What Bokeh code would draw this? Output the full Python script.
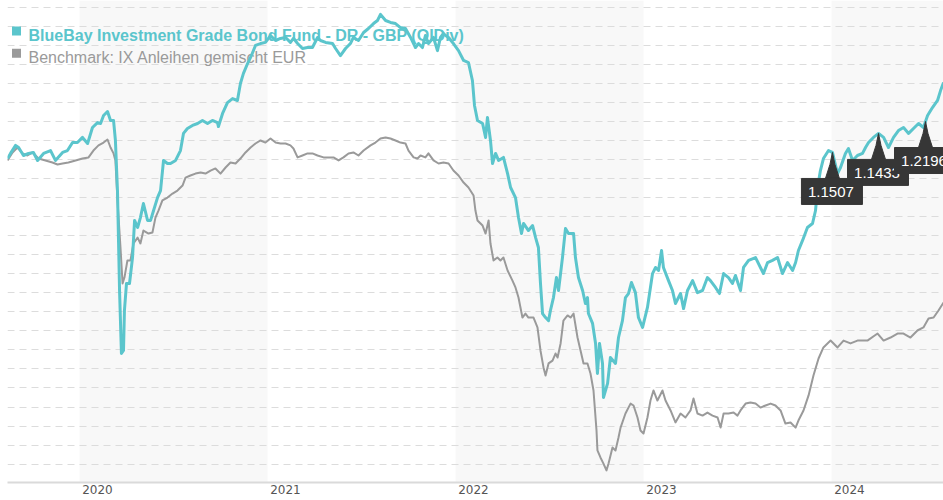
import numpy as np
from bokeh.plotting import figure
from bokeh.models import FixedTicker, Grid
from bokeh.core.properties import value
from bokeh.embed import file_html
from bokeh.resources import INLINE

# ---------------- data (decimal years, index values) ----------------
fund_name = "BlueBay Investment Grade Bond Fund - DR - GBP (QIDiv)"
bench_name = "Benchmark: IX Anleihen gemischt EUR"

fund_t = [
    2019.617, 2019.633, 2019.660, 2019.676, 2019.702, 2019.729, 2019.755, 2019.777, 2019.809, 2019.846, 2019.872, 2019.910, 2019.936, 2019.963, 2019.989,
    2020.016, 2020.043, 2020.069, 2020.096, 2020.112, 2020.128, 2020.149, 2020.165, 2020.181, 2020.191,
    2020.202, 2020.213, 2020.223, 2020.234, 2020.239, 2020.250, 2020.266, 2020.282, 2020.293, 2020.309,
    2020.324, 2020.340, 2020.362, 2020.378, 2020.394, 2020.415, 2020.431, 2020.447, 2020.468, 2020.484,
    2020.511, 2020.537, 2020.553, 2020.574, 2020.601, 2020.628, 2020.654, 2020.681, 2020.707, 2020.734,
    2020.739, 2020.761, 2020.787, 2020.814, 2020.840, 2020.856, 2020.872, 2020.894, 2020.910, 2020.936,
    2020.963, 2020.989,
    2021.016, 2021.043, 2021.069, 2021.096, 2021.122, 2021.138, 2021.160, 2021.186, 2021.213, 2021.239,
    2021.266, 2021.282, 2021.309, 2021.346, 2021.362, 2021.388, 2021.415, 2021.441, 2021.457, 2021.484,
    2021.511, 2021.537, 2021.564, 2021.585, 2021.601, 2021.628, 2021.654, 2021.681, 2021.707, 2021.734,
    2021.761, 2021.787, 2021.803, 2021.824, 2021.840, 2021.856, 2021.883, 2021.904, 2021.920, 2021.936,
    2021.947, 2021.963, 2021.989,
    2022.016, 2022.043, 2022.069, 2022.090, 2022.101, 2022.117, 2022.144, 2022.160, 2022.170, 2022.186,
    2022.197, 2022.213, 2022.229, 2022.255, 2022.277, 2022.293, 2022.319, 2022.335, 2022.351, 2022.362,
    2022.388, 2022.410, 2022.426, 2022.441, 2022.452, 2022.463, 2022.479, 2022.495, 2022.505, 2022.521,
    2022.537, 2022.548, 2022.569, 2022.585, 2022.601, 2022.628, 2022.638, 2022.654, 2022.676, 2022.691,
    2022.702, 2022.707, 2022.729, 2022.745, 2022.755, 2022.766, 2022.782, 2022.787, 2022.809, 2022.824,
    2022.851, 2022.867, 2022.888, 2022.904, 2022.920, 2022.936, 2022.957, 2022.973, 2022.995,
    2023.021, 2023.048, 2023.064, 2023.080, 2023.096, 2023.106, 2023.133, 2023.154, 2023.170, 2023.197,
    2023.213, 2023.234, 2023.261, 2023.287, 2023.314, 2023.340, 2023.356, 2023.383, 2023.404, 2023.426,
    2023.452, 2023.473, 2023.489, 2023.516, 2023.532, 2023.559, 2023.596, 2023.622, 2023.638, 2023.660,
    2023.686, 2023.713, 2023.739, 2023.766, 2023.793, 2023.809, 2023.824, 2023.846, 2023.872, 2023.899,
    2023.915, 2023.926, 2023.941, 2023.957, 2023.984,
    2024.005, 2024.032, 2024.048, 2024.074, 2024.090, 2024.112, 2024.138, 2024.165, 2024.181, 2024.197,
    2024.223, 2024.250, 2024.277, 2024.303, 2024.330, 2024.356, 2024.383, 2024.410, 2024.436, 2024.463,
    2024.489, 2024.511, 2024.537, 2024.564, 2024.580, 2024.596,
]
fund_v = [
    100.05, 100.32, 100.74, 100.63, 100.21, 100.32, 100.37, 99.95, 100.32, 100.47, 99.95, 100.37, 100.47, 100.89, 100.89,
    101.16, 100.84, 101.68, 101.94, 101.89, 102.31, 102.52, 102.05, 102.05, 101.00,
    98.37, 93.12, 89.81, 89.97, 92.07, 93.49, 93.49, 94.85, 96.80, 96.43,
    96.95, 97.69, 96.80, 96.80, 97.32, 98.00, 98.37, 99.95, 99.79, 99.79,
    99.95, 100.47, 101.37, 101.63, 101.79, 101.89, 102.05, 101.89, 102.05, 101.94,
    101.73, 102.42, 102.99, 103.20, 103.10, 103.99, 104.52, 105.04, 105.36, 105.99,
    106.09, 106.15,
    106.51, 106.25, 106.36, 106.41, 106.15, 106.36, 106.09, 105.83, 105.88, 105.88,
    106.41, 106.25, 106.15, 106.09, 105.83, 105.46, 105.83, 106.09, 106.41, 106.25,
    106.67, 106.88, 107.14, 107.30, 107.62, 107.30, 107.20, 107.14, 106.93, 106.88,
    106.41, 105.88, 106.09, 105.88, 106.51, 106.09, 106.41, 105.72, 106.41, 106.62,
    106.51, 106.41, 106.09,
    105.72, 105.20, 105.09, 104.15, 102.84, 102.05, 101.89, 101.16, 102.21, 101.00,
    99.79, 100.32, 99.95, 100.11, 99.26, 98.53, 98.00, 96.95, 96.11, 96.64,
    96.27, 96.53, 95.90, 95.38, 93.49, 91.91, 91.70, 91.54, 92.07, 92.75,
    93.80, 93.12, 94.85, 96.38, 96.11, 96.11, 94.85, 93.80, 93.12, 92.44,
    92.75, 91.91, 91.39, 90.34, 88.76, 90.34, 89.29, 87.50, 88.24, 89.60,
    89.29, 90.65, 91.54, 92.75, 92.96, 93.54, 93.01, 91.70, 91.18,
    92.23, 94.01, 94.33, 94.17, 95.22, 94.33, 93.64, 93.12, 92.44, 92.96,
    92.17, 93.12, 93.64, 93.01, 93.12, 93.80, 93.64, 93.28, 92.96, 94.01,
    93.80, 93.49, 93.91, 93.12, 94.33, 94.70, 94.85, 94.33, 94.01, 94.59,
    94.70, 94.85, 94.01, 94.59, 94.17, 94.59, 95.22, 95.75, 96.43, 96.64,
    97.32, 98.53, 99.42, 100.05, 100.47,
    100.37, 99.26, 99.58, 100.32, 100.58, 99.95, 100.21, 100.32, 100.63, 100.89,
    101.16, 101.37, 101.16, 100.63, 101.16, 101.52, 101.68, 101.37, 101.63, 101.89,
    101.68, 102.31, 102.73, 103.10, 103.62, 104.04,
]

bench_t = [
    2019.617, 2019.644, 2019.670, 2019.697, 2019.723, 2019.750, 2019.782, 2019.819, 2019.856, 2019.883, 2019.910, 2019.941, 2019.979,
    2020.016, 2020.048, 2020.074, 2020.101, 2020.128, 2020.149, 2020.165, 2020.181, 2020.191, 2020.202,
    2020.218, 2020.229, 2020.239, 2020.255, 2020.271, 2020.287, 2020.309, 2020.324, 2020.340, 2020.367,
    2020.388, 2020.404, 2020.420, 2020.441, 2020.468, 2020.495, 2020.521, 2020.548, 2020.564, 2020.590,
    2020.617, 2020.644, 2020.670, 2020.697, 2020.723, 2020.750, 2020.777, 2020.803, 2020.830, 2020.856,
    2020.883, 2020.910, 2020.936, 2020.963, 2020.989,
    2021.016, 2021.043, 2021.069, 2021.096, 2021.122, 2021.138, 2021.160, 2021.186, 2021.213, 2021.239,
    2021.266, 2021.298, 2021.324, 2021.351, 2021.378, 2021.404, 2021.431, 2021.457, 2021.484, 2021.511,
    2021.548, 2021.574, 2021.601, 2021.628, 2021.654, 2021.681, 2021.707, 2021.734, 2021.750, 2021.777,
    2021.798, 2021.814, 2021.840, 2021.856, 2021.883, 2021.910, 2021.936, 2021.963, 2021.989,
    2022.016, 2022.043, 2022.069, 2022.096, 2022.106, 2022.117, 2022.144, 2022.160, 2022.176, 2022.186,
    2022.202, 2022.223, 2022.239, 2022.255, 2022.277, 2022.303, 2022.319, 2022.335, 2022.356, 2022.372,
    2022.388, 2022.415, 2022.436, 2022.452, 2022.468, 2022.479, 2022.495, 2022.516, 2022.532, 2022.543,
    2022.559, 2022.574, 2022.596, 2022.612, 2022.628, 2022.649, 2022.665, 2022.681, 2022.702, 2022.718,
    2022.734, 2022.750, 2022.755, 2022.771, 2022.787, 2022.803, 2022.814, 2022.835, 2022.851, 2022.867,
    2022.878, 2022.904, 2022.931, 2022.947, 2022.968, 2022.984,
    2023.000, 2023.021, 2023.037, 2023.053, 2023.074, 2023.101, 2023.117, 2023.144, 2023.170, 2023.197,
    2023.223, 2023.250, 2023.266, 2023.287, 2023.314, 2023.340, 2023.367, 2023.394, 2023.410, 2023.426,
    2023.452, 2023.479, 2023.500, 2023.516, 2023.543, 2023.569, 2023.596, 2023.622, 2023.649, 2023.676,
    2023.702, 2023.729, 2023.755, 2023.782, 2023.809, 2023.824, 2023.851, 2023.878, 2023.904, 2023.931,
    2023.957, 2023.995,
    2024.032, 2024.064, 2024.101, 2024.138, 2024.191, 2024.245, 2024.277, 2024.314, 2024.351, 2024.383,
    2024.420, 2024.457, 2024.489, 2024.516, 2024.543, 2024.569, 2024.596,
]
bench_v = [
    99.95, 100.37, 100.63, 100.32, 100.21, 100.37, 100.05, 99.95, 99.84, 99.74, 99.79, 99.84, 99.95,
    100.05, 100.11, 100.47, 100.74, 100.89, 101.05, 100.63, 100.32, 99.95, 97.85,
    95.38, 93.49, 93.80, 94.70, 94.70, 95.59, 95.90, 95.59, 96.27, 96.11,
    96.17, 96.95, 97.32, 97.85, 98.00, 98.21, 98.37, 98.63, 99.05, 99.16,
    99.26, 99.32, 99.26, 99.42, 99.53, 99.26, 99.58, 99.84, 99.79, 100.05,
    100.37, 100.63, 100.84, 101.00, 100.89,
    101.10, 100.89, 100.84, 100.84, 100.74, 100.58, 100.11, 100.21, 100.32, 100.32,
    100.21, 100.11, 100.11, 100.11, 99.95, 100.11, 100.32, 100.37, 100.21, 100.47,
    100.74, 100.89, 101.10, 101.16, 101.10, 101.00, 100.89, 100.84, 100.47, 100.11,
    100.05, 100.21, 100.11, 100.32, 99.95, 99.79, 99.84, 99.79, 99.42,
    99.16, 98.79, 98.53, 98.11, 97.32, 96.80, 96.53, 96.11, 96.80, 95.59,
    94.70, 94.85, 94.70, 94.85, 94.17, 93.64, 93.28, 92.75, 91.70, 91.91,
    91.70, 91.70, 91.18, 89.97, 89.08, 88.66, 89.29, 89.44, 89.81, 89.60,
    90.34, 91.54, 91.81, 91.70, 91.91, 90.65, 89.97, 89.29, 89.29, 88.76,
    87.87, 85.77, 84.72, 84.35, 84.03, 83.67, 84.03, 84.87, 84.72, 85.40,
    85.92, 86.66, 87.18, 87.08, 86.45, 85.77,
    85.61, 86.45, 87.34, 87.87, 87.34, 87.87, 87.34, 86.82, 86.19, 86.66,
    86.45, 86.82, 87.45, 86.66, 86.55, 86.71, 86.55, 86.45, 85.92, 86.66,
    86.66, 86.71, 86.55, 86.82, 87.18, 87.24, 87.18, 86.97, 87.08, 87.18,
    87.08, 86.82, 86.13, 86.19, 85.92, 86.29, 86.82, 87.61, 88.66, 89.55,
    90.13, 90.49,
    90.13, 90.49, 90.34, 90.49, 90.49, 90.86, 90.49, 90.65, 90.86, 90.86,
    90.65, 91.02, 91.18, 91.65, 91.70, 92.07, 92.49,
]

year_ticks = [2020, 2021, 2022, 2023, 2024]
year_labels = ["2020", "2021", "2022", "2023", "2024"]
shaded_years = [2020, 2022, 2024]
grid_levels = list(range(84, 109))

div_t = [2024.005, 2024.250, 2024.500]
div_labels = ["1.1507", "1.1433", "1.2196"]

assert len(fund_t) == len(fund_v) and len(bench_t) == len(bench_v)

# ---------------- styling / layout ----------------
CYAN = "#5bc5cc"
GRAY = "#9a9a9a"
FLAG = "#363636"
BAND = "#f8f8f8"

LEFT = 7                 # page x of the plot frame's left edge
FW, FH = 936, 482        # frame size in px
X0, X1 = 2019.617, 2024.5957
Y0, Y1 = 83.036, 108.351
DX = (X1 - X0) / FW     # data units per pixel
DY = (Y1 - Y0) / FH

def px_x(page_x):
    return X0 + (page_x - LEFT) * DX

def px_y(page_y):
    return Y1 - page_y * DY

p = figure(frame_width=FW, frame_height=FH, x_range=(X0, X1), y_range=(Y0, Y1),
           output_backend="svg", toolbar_location=None, y_axis_location=None,
           min_border_left=LEFT, min_border_right=0, min_border_top=0, min_border_bottom=17,
           outline_line_color=None, background_fill_color="white", border_fill_color="white")

# alternating year bands
p.quad(left=shaded_years, right=[y + 1 for y in shaded_years], bottom=Y0, top=Y1,
       fill_color=BAND, line_color=None, level="image")

# grid
p.xgrid.visible = False
p.ygrid.visible = False
g = Grid(dimension=1, ticker=FixedTicker(ticks=grid_levels), grid_line_color="#dcdcdc",
         grid_line_dash="7 5", grid_line_width=1)
p.add_layout(g, "center")

# x axis
label_offset = 0.0957
tick_pos = [y + label_offset for y in year_ticks]
p.xaxis.ticker = FixedTicker(ticks=tick_pos)
p.xaxis.major_label_overrides = {t: lab for t, lab in zip(tick_pos, year_labels)}
p.xaxis.axis_line_color = "#dadada"
p.xaxis.axis_line_width = 2
p.xaxis.major_tick_line_color = None
p.xaxis.minor_tick_line_color = None
p.xaxis.major_tick_out = 0
p.xaxis.major_tick_in = 0
p.xaxis.major_label_standoff = 2
p.xaxis.major_label_text_font = "DejaVu Sans"
p.xaxis.major_label_text_font_size = "12px"
p.xaxis.major_label_text_color = "#555555"

# legend (drawn beneath lines)
p.scatter(x=[px_x(16), px_x(16)], y=[px_y(30.5), px_y(52.8)], marker="square", size=9,
          fill_color=[CYAN, GRAY], line_color=None)
p.text(x=[px_x(28)], y=[px_y(34.5)], text=[fund_name], text_font=value("Liberation Sans"),
       text_font_size="16px", text_font_style="bold", text_color=CYAN,
       text_baseline="alphabetic", text_align="left")
p.text(x=[px_x(28)], y=[px_y(57.3)], text=[bench_name], text_font=value("Liberation Sans"),
       text_font_size="16px", text_color=GRAY, text_baseline="alphabetic", text_align="left")

# series
p.line(bench_t, bench_v, line_color=GRAY, line_width=2, line_join="round")
p.line(fund_t, fund_v, line_color=CYAN, line_width=3, line_join="round")

# dividend flags
for t, lab in zip(div_t, div_labels):
    v = float(np.interp(t, fund_t, fund_v))
    xs = [t + DX * o for o in (0, -2.5, -7, 7, 2.5)]
    ys = [v - DY * o for o in (0, 12, 26, 26, 12)]
    p.patch(xs, ys, fill_color=FLAG, line_color=FLAG, line_width=1)
    p.quad(left=[t - 31 * DX], right=[t + 30 * DX], top=[v - 26 * DY], bottom=[v - 52 * DY],
           fill_color=FLAG, line_color=FLAG)
    p.text(x=[t - 1.5 * DX], y=[v - 39.5 * DY], text=[lab],
           text_font=value("Liberation Sans"), text_font_size="15px",
           text_color="white", text_align="center", text_baseline="middle")

open("out.html", "w").write(file_html(p, INLINE))
